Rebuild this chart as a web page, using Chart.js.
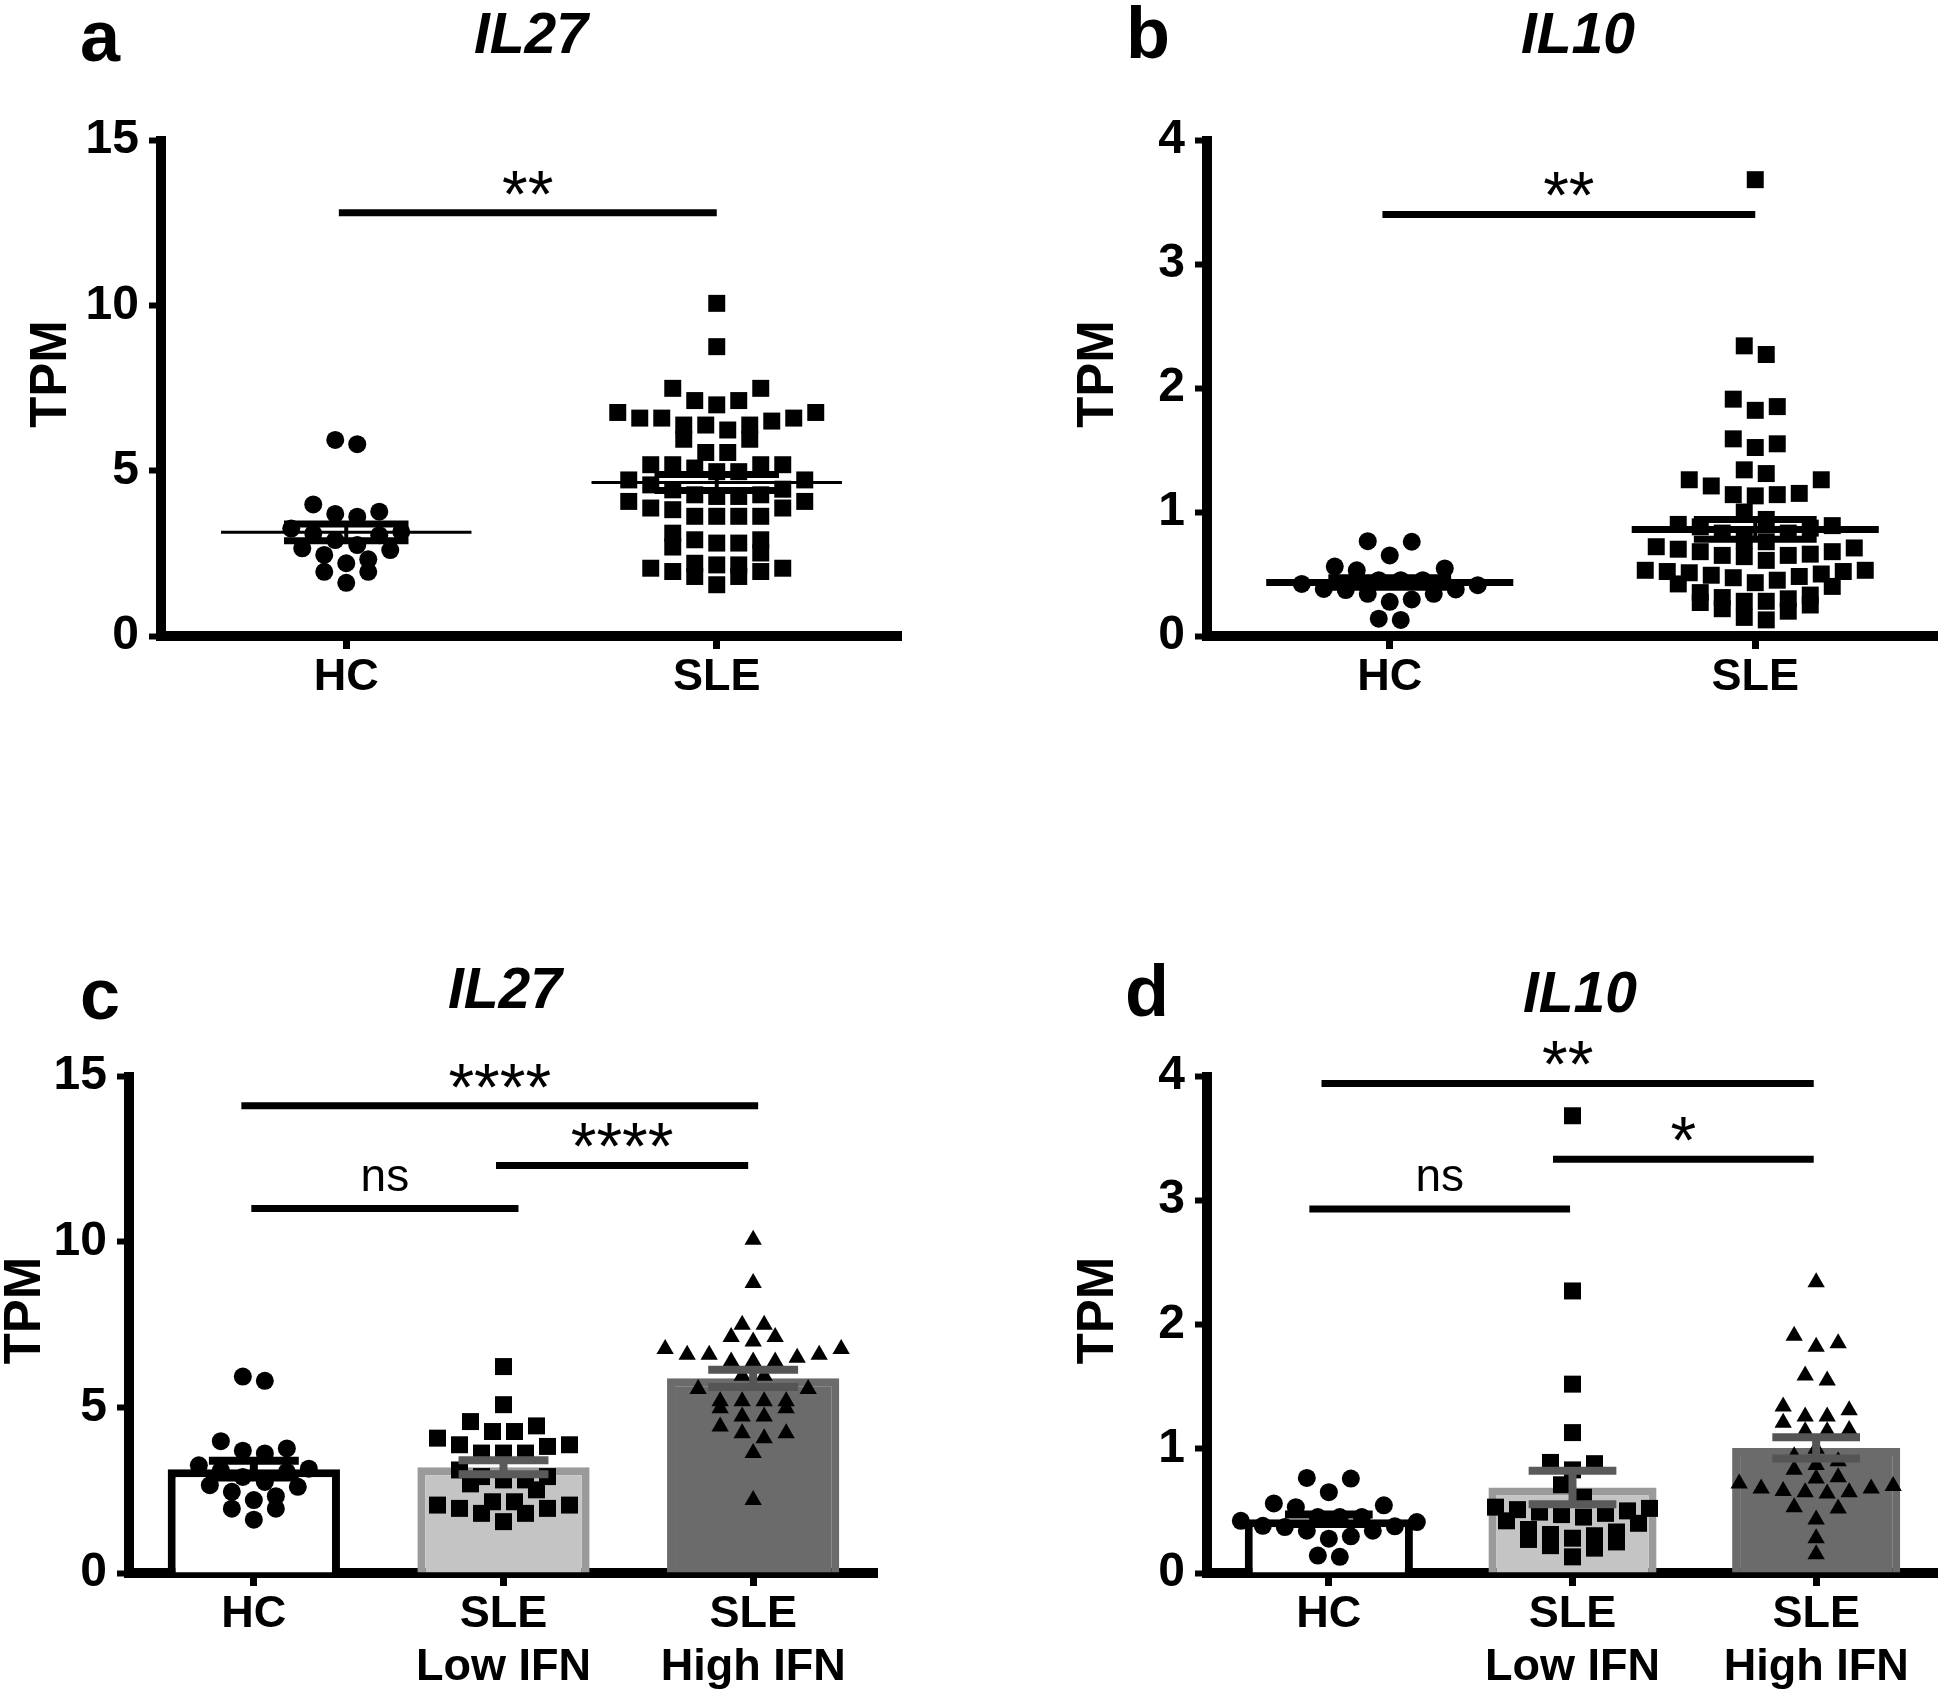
<!DOCTYPE html>
<html lang="en">
<head>
  <meta charset="UTF-8">
  <title>IL27 / IL10 expression</title>
  <script src="https://cdn.jsdelivr.net/npm/chart.js"></script>
  <style>
    body { margin: 0; background: #fff; }
    .page { position: relative; width: 1950px; height: 1696px; overflow: hidden; background: #fff;
            font-family: "Liberation Sans", Arial, sans-serif; color: #000; }
    .page canvas { position: absolute; }
    .letter { position: absolute; font-size: 72px; font-weight: bold; line-height: 1; transform: translate(-50%, -50%); }
    .gene { position: absolute; font-size: 57px; font-weight: bold; font-style: italic; line-height: 1; transform: translate(-50%, -50%); }
  </style>
</head>
<body>
  <div class="page">
    <div class="letter" style="left:100px; top:36px">a</div>
    <div class="gene" style="left:531px; top:33px">IL27</div>
    <div class="letter" style="left:1148px; top:33px">b</div>
    <div class="gene" style="left:1578px; top:33px">IL10</div>
    <div class="letter" style="left:100px; top:994px">c</div>
    <div class="gene" style="left:505px; top:988px">IL27</div>
    <div class="letter" style="left:1147px; top:991px">d</div>
    <div class="gene" style="left:1580px; top:992px">IL10</div>

    <canvas id="chartA" width="975" height="620" style="left:0; top:100px"></canvas>
    <canvas id="chartB" width="904" height="620" style="left:1046px; top:100px"></canvas>
    <canvas id="chartC" width="1007" height="666" style="left:-32px; top:1030px"></canvas>
    <canvas id="chartD" width="904" height="666" style="left:1046px; top:1030px"></canvas>
  </div>

  <script>
    // TPM values (one value per subject)
    const hcIL27 = [5.80, 5.93, 3.98, 3.61, 3.76, 3.69, 2.90, 2.65, 2.45, 2.60, 2.75, 2.32, 2.20, 1.94, 1.94, 1.61, 3.05, 3.15, 3.25, 3.10];
    const lowIL27 = [6.23, 5.08, 4.44, 4.57, 4.27, 4.27, 4.07, 3.87, 3.87, 3.82, 3.62, 3.62, 3.62, 3.11, 2.91, 2.91, 2.81, 2.81, 2.69, 2.51,
                     2.15, 2.05, 1.95, 1.80, 1.55, 1.80, 1.95, 2.05, 2.15];
    const highIL27 = [10.06, 8.75, 7.49, 7.49, 7.12, 7.12, 6.99, 6.76, 6.76, 6.59, 6.59, 6.59, 6.50, 6.38, 6.38, 6.38, 5.95, 5.95,
                      5.55, 5.55, 5.18, 5.18, 5.18, 5.18, 4.97, 4.97, 4.72, 4.72, 4.42, 4.22, 4.22, 4.07, 3.62, 2.20];

    const hcIL10 = [0.765, 0.76, 0.65, 0.56, 0.53, 0.545, 0.45, 0.45, 0.38, 0.37, 0.41, 0.376, 0.34, 0.34, 0.276, 0.295, 0.13, 0.14, 0.45, 0.42];
    const lowIL10 = [3.68, 2.27, 1.52, 1.13, 0.89, 0.88, 0.83, 0.71, 0.61, 0.52, 0.50, 0.48, 0.45, 0.47, 0.49, 0.51, 0.53,
                     0.35, 0.31, 0.27, 0.22, 0.13, 0.20, 0.25, 0.30, 0.33, 0.40, 0.42, 0.28];
    const highIL10 = [2.34, 1.85, 1.82, 1.91, 1.55, 1.59, 1.34, 1.31, 1.26, 1.26, 1.21, 1.15, 1.14, 1.14, 0.94, 0.87, 0.90, 0.83,
                      0.76, 0.77, 0.70, 0.68, 0.65, 0.64, 0.65, 0.66, 0.68, 0.72, 0.52, 0.53, 0.43, 0.28, 0.15, 1.00];

    const labelsTwo = ['HC', 'SLE'];
    const labelsThree = ['HC', ['SLE', 'Low IFN'], ['SLE', 'High IFN']];
    const ticksIL27 = [0, 5, 10, 15];
    const ticksIL10 = [0, 1, 2, 3, 4];

    // significance brackets: group span, height in TPM, label
    const sigA = [{ from: -0.02, to: 1.0, y: 12.8, text: '**' }];
    const sigB = [{ from: -0.02, to: 1.0, y: 3.4, text: '**' }];
    const sigC = [
      { from: -0.05, to: 2.02, y: 14.1, text: '****' },
      { from: 0.97, to: 1.98, y: 12.3, text: '****' },
      { from: -0.01, to: 1.06, y: 11.0, text: 'ns' }
    ];
    const sigD = [
      { from: -0.03, to: 1.99, y: 3.94, text: '**' },
      { from: 0.92, to: 1.99, y: 3.33, text: '*' },
      { from: -0.08, to: 0.99, y: 2.93, text: 'ns' }
    ];

    const SANS = '"Liberation Sans", Arial, sans-serif';
    Chart.defaults.font.family = SANS;
    Chart.defaults.color = '#000';

    function mean(a) { return a.reduce((s, v) => s + v, 0) / a.length; }
    function sem(a) {
      const m = mean(a);
      const v = a.reduce((s, x) => s + (x - m) * (x - m), 0) / (a.length - 1);
      return Math.sqrt(v / a.length);
    }

    // lay the points out in rows like a column scatter (lowest value of a row in the middle)
    const swarmPlugin = {
      id: 'swarm',
      beforeDatasetsUpdate(chart) {
        const xs = chart.scales.x, ys = chart.scales.y;
        const unit = xs.getPixelForValue(1) - xs.getPixelForValue(0);
        chart.data.datasets.forEach(ds => {
          if (ds.center === undefined) return;
          const pts = ds.data.slice().sort((a, b) => a.y - b.y);
          const step = ds.step / unit;
          let i = 0;
          while (i < pts.length) {
            const base = ys.getPixelForValue(pts[i].y);
            let j = i + 1;
            while (j < pts.length && base - ys.getPixelForValue(pts[j].y) < ds.rowHeight) j++;
            const row = pts.slice(i, j);
            const slots = row.map((p, k) => k - (row.length - 1) / 2)
              .sort((a, b) => Math.abs(a) - Math.abs(b) || b - a);
            row.forEach((p, k) => { p.x = ds.center + slots[k] * step; });
            i = j;
          }
          ds.data.sort((a, b) => a.x - b.x);
        });
      }
    };

    // heavy axes, TPM label, mean / SEM marks and significance brackets
    function statsPlugin(cfg) {
      const seg = (ctx, x1, y1, x2, y2, w, c) => {
        ctx.beginPath(); ctx.lineWidth = w; ctx.strokeStyle = c;
        ctx.moveTo(x1, y1); ctx.lineTo(x2, y2); ctx.stroke();
      };
      return {
        id: 'stats',
        beforeDatasetsDraw(chart) {
          const { ctx, chartArea: a } = chart;
          ctx.save();
          seg(ctx, a.left, a.top - 4, a.left, a.bottom + 5, 10, '#000');
          seg(ctx, a.left - 5, a.bottom, a.right, a.bottom, 10, '#000');
          ctx.translate(cfg.titleX, (a.top + a.bottom) / 2 - 14);
          ctx.rotate(-Math.PI / 2);
          ctx.font = 'bold 51px ' + SANS;
          ctx.fillStyle = '#000';
          ctx.textAlign = 'center';
          ctx.textBaseline = 'middle';
          ctx.fillText('TPM', 0, 0);
          ctx.restore();
        },
        afterDatasetsDraw(chart) {
          const ctx = chart.ctx, xs = chart.scales.x, ys = chart.scales.y;
          const unit = xs.getPixelForValue(1) - xs.getPixelForValue(0);
          ctx.save();
          cfg.groups.forEach((g, i) => {
            const m = mean(g), e = sem(g), cx = xs.getPixelForValue(i), c = cfg.colors[i];
            const ym = ys.getPixelForValue(m), yt = ys.getPixelForValue(m + e), yb = ys.getPixelForValue(m - e);
            seg(ctx, cx, yt, cx, yb, cfg.stemWidth, c);
            seg(ctx, cx - cfg.capHalf * unit, yt, cx + cfg.capHalf * unit, yt, cfg.capWidth, c);
            seg(ctx, cx - cfg.capHalf * unit, yb, cx + cfg.capHalf * unit, yb, cfg.capWidth, c);
            if (cfg.meanHalf) seg(ctx, cx - cfg.meanHalf * unit, ym, cx + cfg.meanHalf * unit, ym, cfg.meanWidth, c);
          });
          cfg.sig.forEach(s => {
            const y = ys.getPixelForValue(s.y);
            const x1 = xs.getPixelForValue(s.from), x2 = xs.getPixelForValue(s.to);
            seg(ctx, x1, y, x2, y, 7, '#000');
            ctx.font = (s.text === 'ns' ? '46px ' : '66px ') + SANS;
            ctx.fillStyle = '#000';
            ctx.textAlign = 'center';
            ctx.textBaseline = 'alphabetic';
            const mt = ctx.measureText(s.text);
            const cy = y - 30;
            ctx.fillText(s.text, (x1 + x2) / 2, cy + (mt.actualBoundingBoxAscent - mt.actualBoundingBoxDescent) / 2);
          });
          ctx.restore();
        }
      };
    }

    function makeChart(id, p) {
      const n = p.groups.length;
      const datasets = [];
      if (p.barFill) {
        datasets.push({
          type: 'bar',
          data: p.groups.map((g, i) => ({ x: i, y: mean(g) })),
          backgroundColor: p.barFill,
          borderColor: p.barEdge,
          borderWidth: 8,
          borderSkipped: 'bottom',
          categoryPercentage: 1,
          barPercentage: 0.69,
          order: 2
        });
      }
      p.groups.forEach((g, i) => {
        datasets.push({
          type: 'scatter',
          data: g.map(v => ({ x: i, y: v })),
          parsing: false,
          center: i,
          step: 22,
          rowHeight: p.shapes[i] === 'triangle' ? 13 : 18,
          pointStyle: p.shapes[i],
          pointRadius: p.radii[i],
          pointHoverRadius: p.radii[i],
          backgroundColor: '#000',
          borderWidth: 0,
          clip: false,
          order: 1
        });
      });

      return new Chart(document.getElementById(id), {
        type: p.barFill ? 'bar' : 'scatter',
        data: { datasets },
        options: {
          responsive: false,
          animation: false,
          devicePixelRatio: 1,
          layout: { padding: { top: p.padTop, right: p.padRight, bottom: 0, left: 0 } },
          plugins: { legend: { display: false }, tooltip: { enabled: false } },
          scales: {
            x: {
              type: 'linear',
              min: -0.5,
              max: n - 0.5,
              offset: false,
              afterBuildTicks: s => { s.ticks = p.labels.map((l, i) => ({ value: i })); },
              afterFit: s => { s.height = p.xHeight; },
              ticks: {
                callback: v => p.labels[Math.round(v)],
                font: { size: 45, weight: 'bold', lineHeight: 1.18 },
                color: '#000',
                padding: 2,
                maxRotation: 0,
                autoSkip: false
              },
              grid: { offset: false, drawOnChartArea: false, drawTicks: true, tickLength: 13, tickWidth: 7, tickColor: '#000' },
              border: { display: false }
            },
            y: {
              type: 'linear',
              min: 0,
              max: p.ticks[p.ticks.length - 1],
              afterBuildTicks: s => { s.ticks = p.ticks.map(v => ({ value: v })); },
              afterFit: s => { s.width = 161; },
              ticks: { font: { size: 48, weight: 'bold' }, color: '#000', padding: 10 },
              grid: { drawOnChartArea: false, drawTicks: true, tickLength: 12, tickWidth: 6, tickColor: '#000' },
              border: { display: false }
            }
          }
        },
        plugins: [swarmPlugin, statsPlugin({
          groups: p.groups, colors: p.errColors, sig: p.sig, titleX: p.titleX,
          meanHalf: p.meanHalf, meanWidth: p.meanWidth,
          capHalf: p.capHalf, capWidth: p.capWidth, stemWidth: p.stemWidth
        })]
      });
    }

    // a: IL27, HC vs SLE
    makeChart('chartA', {
      groups: [hcIL27, lowIL27.concat(highIL27)], labels: labelsTwo, ticks: ticksIL27,
      shapes: ['circle', 'rect'], radii: [9, 12], sig: sigA, errColors: ['#000', '#000'],
      meanHalf: 0.338, meanWidth: 3, capHalf: 0.168, capWidth: 7, stemWidth: 4,
      padTop: 40, padRight: 73, xHeight: 84, titleX: 52
    });

    // b: IL10, HC vs SLE
    makeChart('chartB', {
      groups: [hcIL10, lowIL10.concat(highIL10)], labels: labelsTwo, ticks: ticksIL10,
      shapes: ['circle', 'rect'], radii: [9, 12], sig: sigB, errColors: ['#000', '#000'],
      meanHalf: 0.338, meanWidth: 7, capHalf: 0.168, capWidth: 7, stemWidth: 4,
      padTop: 40, padRight: 3, xHeight: 84, titleX: 53
    });

    // c: IL27 by IFN signature
    makeChart('chartC', {
      groups: [hcIL27, lowIL27, highIL27], labels: labelsThree, ticks: ticksIL27,
      shapes: ['circle', 'rect', 'triangle'], radii: [9, 12, 10], sig: sigC,
      barFill: ['#ffffff', '#c4c4c4', '#6b6b6b'], barEdge: ['#000000', '#9a9a9a', '#6b6b6b'],
      errColors: ['#000', '#5a5a5a', '#555'],
      meanHalf: 0, capHalf: 0.18, capWidth: 8, stemWidth: 8,
      padTop: 46, padRight: 97, xHeight: 123, titleX: 58
    });

    // d: IL10 by IFN signature
    makeChart('chartD', {
      groups: [hcIL10, lowIL10, highIL10], labels: labelsThree, ticks: ticksIL10,
      shapes: ['circle', 'rect', 'triangle'], radii: [9, 12, 10], sig: sigD,
      barFill: ['#ffffff', '#c4c4c4', '#6b6b6b'], barEdge: ['#000000', '#9a9a9a', '#6b6b6b'],
      errColors: ['#000', '#5a5a5a', '#555'],
      meanHalf: 0, capHalf: 0.18, capWidth: 8, stemWidth: 8,
      padTop: 46, padRight: 3, xHeight: 123, titleX: 53
    });
  </script>
</body>
</html>
